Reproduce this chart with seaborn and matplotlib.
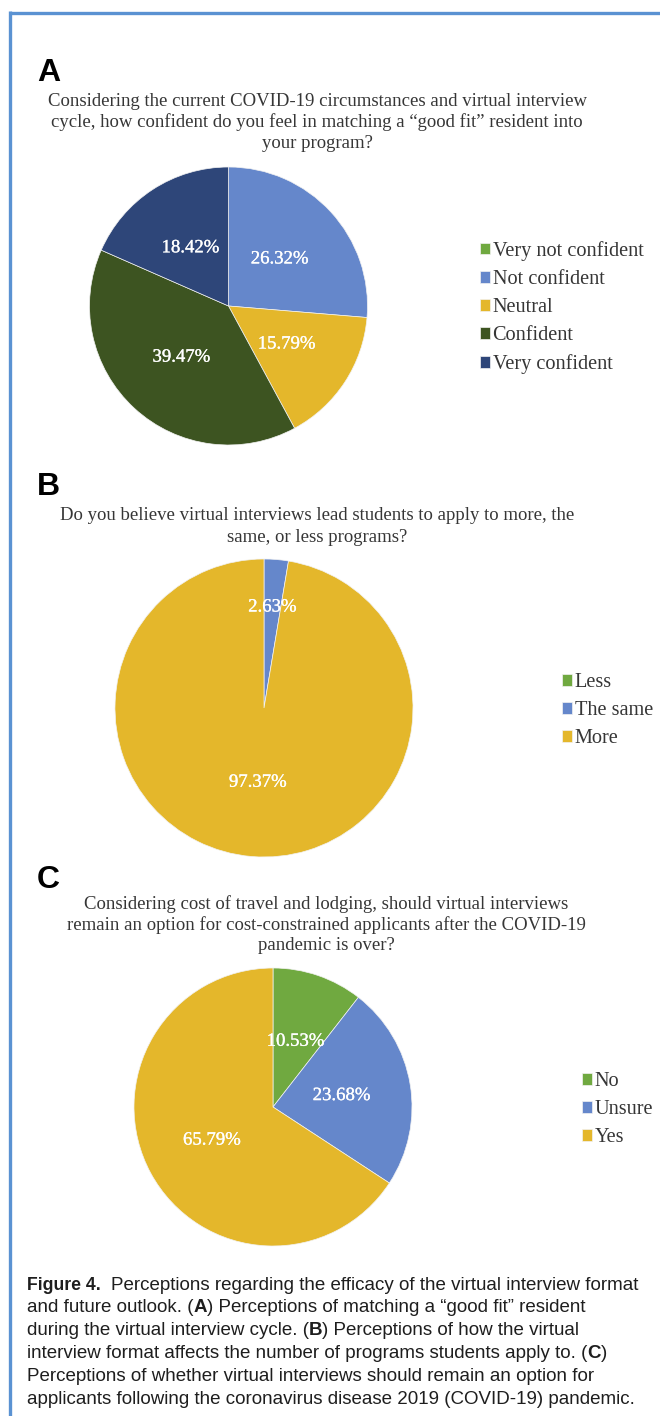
import matplotlib
matplotlib.use("Agg")
import numpy as np
import matplotlib.pyplot as plt
import matplotlib.patheffects as pe
from matplotlib.lines import Line2D
from matplotlib.font_manager import FontProperties
import seaborn as sns

# ---- survey data -------------------------------------------------------
q_a = ["Considering the current COVID-19 circumstances and virtual interview",
       "cycle, how confident do you feel in matching a \u201cgood fit\u201d resident into",
       "your program?"]
cat_a = ["Very not confident", "Not confident", "Neutral", "Confident", "Very confident"]
val_a = [0.00, 26.32, 15.79, 39.47, 18.42]

q_b = ["Do you believe virtual interviews lead students to apply to more, the",
       "same, or less programs?"]
cat_b = ["Less", "The same", "More"]
val_b = [0.00, 2.63, 97.37]

q_c = ["Considering cost of travel and lodging, should virtual interviews",
       "remain an option for cost-constrained applicants after the COVID-19",
       "pandemic is over?"]
cat_c = ["No", "Unsure", "Yes"]
val_c = [10.53, 23.68, 65.79]

caption_lines = [
    [("Figure 4.", "fig"), ("  Perceptions regarding the efficacy of the virtual interview format", "r")],
    [("and future outlook. (", "r"), ("A", "b"), (") Perceptions of matching a \u201cgood fit\u201d resident", "r")],
    [("during the virtual interview cycle. (", "r"), ("B", "b"), (") Perceptions of how the virtual", "r")],
    [("interview format affects the number of programs students apply to. (", "r"), ("C", "b"), (")", "r")],
    [("Perceptions of whether virtual interviews should remain an option for", "r")],
    [("applicants following the coronavirus disease 2019 (COVID-19) pandemic.", "r")],
]

# ---- style -------------------------------------------------------------
sns.set_theme(style="white")
plt.rcParams["font.family"] = ["Liberation Serif", "DejaVu Serif"]

GREEN = "#70A940"
BLUE = "#6587CB"
YELLOW = "#E4B72B"
DKGREEN = "#3D5421"
NAVY = "#2E4679"
colors_a = [GREEN, BLUE, YELLOW, DKGREEN, NAVY]
colors_bc = [GREEN, BLUE, YELLOW]

TXT = "#363636"
SERIF = ["Liberation Serif", "DejaVu Serif"]
SANS = ["Liberation Sans", "DejaVu Sans"]

W, H = 660, 1416
fig = plt.figure(figsize=(W / 100, H / 100), dpi=100)
fig.patch.set_facecolor("white")


def fx(px):
    return px / W


def fy(py):
    return 1 - py / H


def rect(left, top, w, h):
    return [left / W, 1 - (top + h) / H, w / W, h / H]


# frame lines along the top and the left side
border = "#5A92D2"
fig.add_artist(Line2D([fx(9.5), fx(W)], [fy(12.5), fy(12.5)], color=border, lw=2.4,
                      transform=fig.transFigure, solid_capstyle="butt"))
fig.add_artist(Line2D([fx(9.5), fx(9.5)], [fy(11.3), fy(H)], color=border, lw=2.4,
                      transform=fig.transFigure, solid_capstyle="butt"))


def pct_fmt(p):
    return "" if p < 0.005 else f"{p:.2f}%"


def draw_pie(box, values, colors, cats, legend_xy, label_r=None):
    ax = fig.add_axes(rect(*box))
    wedges, _, autotexts = ax.pie(
        values, colors=colors, startangle=90, counterclock=False,
        autopct=pct_fmt, pctdistance=0.5,
        wedgeprops=dict(linewidth=0.5, edgecolor="#f2f2f2"),
        textprops=dict(color="white", fontsize=13.5, family=SERIF))
    for t in autotexts:
        t.set_path_effects([pe.withStroke(linewidth=0.2, foreground="white")])
    ax.set_xlim(-1, 1)
    ax.set_ylim(-1, 1)
    ax.set_aspect("equal")
    ax.axis("off")
    if label_r:
        for i, r in label_r.items():
            w = wedges[i]
            ang = np.deg2rad((w.theta1 + w.theta2) / 2)
            autotexts[i].set_position((r * np.cos(ang), r * np.sin(ang)))
    lx, ly = legend_xy
    fig.legend(wedges, cats, loc="upper left", bbox_to_anchor=(fx(lx), fy(ly)),
               frameon=False, handlelength=0.5, handleheight=0.5,
               handletextpad=0.12, labelspacing=0.45, borderpad=0, borderaxespad=0,
               prop=FontProperties(family=SERIF, size=14.6), labelcolor=TXT)
    return ax


def title_lines(lines, cx, y0, dy=21):
    for i, s in enumerate(lines):
        fig.text(fx(cx), fy(y0 + i * dy), s, ha="center", va="center",
                 fontsize=13.5, family=SERIF, color=TXT)


def panel_letter(s, y):
    fig.text(fx(37), fy(y), s, ha="left", va="center", fontsize=23,
             fontweight="bold", family=SANS, color="black")


# panel A
panel_letter("A", 73)
title_lines(q_a, 317, 101)
draw_pie((89.5, 167, 278, 278), val_a, colors_a, cat_a, (480, 241))

# panel B
panel_letter("B", 487)
title_lines(q_b, 317, 516)
draw_pie((115, 559, 298, 298), val_b, colors_bc, cat_b, (562, 673), label_r={1: 0.68})

# panel C
panel_letter("C", 880)
title_lines(q_c, 326, 904)
draw_pie((134, 968, 278, 278), val_c, colors_bc, cat_c, (582, 1072))

# caption, with bold run-ins
fig.canvas.draw()
renderer = fig.canvas.get_renderer()
CAP = 13.5


def props(kind):
    if kind == "fig":
        return dict(family=["Liberation Sans Narrow", "Liberation Sans"], fontweight="bold",
                    fontsize=CAP - 0.8)
    if kind == "b":
        return dict(family=SANS, fontweight="bold", fontsize=CAP)
    return dict(family=SANS, fontweight="normal", fontsize=CAP)


def measure(s, kind):
    t = fig.text(0, 0, s, **props(kind))
    w = t.get_window_extent(renderer).width
    t.remove()
    return w


space_w = measure("a  a", "r") - measure("aa", "r")

for i, runs in enumerate(caption_lines):
    y = 1285 + i * 22.8
    x = 27
    for s, kind in runs:
        lead = len(s) - len(s.lstrip(" "))
        if lead:
            x += space_w / 2 * lead
            s = s.lstrip(" ")
        t = fig.text(fx(x), fy(y), s, ha="left", va="center",
                     color="#1e1e1e", **props(kind))
        x += t.get_window_extent(renderer).width

fig.savefig("out.png", dpi=100, facecolor="white")
